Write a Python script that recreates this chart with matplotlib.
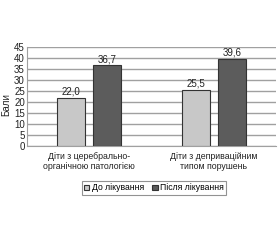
import matplotlib
matplotlib.use("Agg")
import matplotlib.pyplot as plt
import numpy as np

plt.rcParams["font.family"] = ["Liberation Sans", "DejaVu Sans"]

categories = ["Діти з церебрально-\nорганічною патологією", "Діти з деприваційним\nтипом порушень"]
before = [22.0, 25.5]
after = [36.7, 39.6]
series_labels = ["До лікування", "Після лікування"]
yticks = list(range(0, 50, 5))

fig = plt.figure(figsize=(2.8, 2.4), dpi=100)
ax = fig.add_axes([27 / 280, 1 - 146 / 240, (276 - 27) / 280, (146 - 47) / 240])

x = np.arange(len(categories))
width = 0.225
offset = 0.145
b1 = ax.bar(x - offset, before, width, color="#c8c8c8", edgecolor="#333333", linewidth=0.8,
            label=series_labels[0], zorder=3)
b2 = ax.bar(x + offset, after, width, color="#5c5c5c", edgecolor="#333333", linewidth=0.8,
            label=series_labels[1], zorder=3)

for bars in (b1, b2):
    for rect in bars:
        h = rect.get_height()
        ax.text(rect.get_x() + rect.get_width() / 2, h + 0.5, f"{h:.1f}".replace(".", ","),
                ha="center", va="bottom", fontsize=7, color="#222222")

ax.set_xlim(-0.5, 1.5)
ax.set_ylim(0, 45)
ax.set_yticks(yticks)
ax.tick_params(axis="y", length=0, labelsize=7, pad=1.5, colors="#222222")
ax.tick_params(axis="x", length=0, labelsize=6.3, pad=4, colors="#222222")
ax.set_xticks(x)
ax.set_xticklabels(categories)
ax.yaxis.grid(True, color="#a0a0a0", linewidth=1.0, zorder=0)
for side in ("top", "right"):
    ax.spines[side].set_visible(False)
ax.spines["left"].set_color("#a0a0a0")
ax.spines["bottom"].set_color("#a0a0a0")
ax.set_ylabel("Бали", fontsize=7, color="#222222")
ax.yaxis.set_label_coords(-0.062, 0.42)

leg = fig.legend(handles=[b1, b2], loc="center", bbox_to_anchor=(154 / 280, 1 - 188 / 240),
                 ncol=2, fontsize=6.2, frameon=True, fancybox=False, handlelength=0.6,
                 handleheight=0.6, handletextpad=0.3, columnspacing=1.0, borderpad=0.25,
                 borderaxespad=0)
leg.get_frame().set_edgecolor("#777777")
leg.get_frame().set_linewidth(0.8)

fig.savefig("out.png", dpi=100)
